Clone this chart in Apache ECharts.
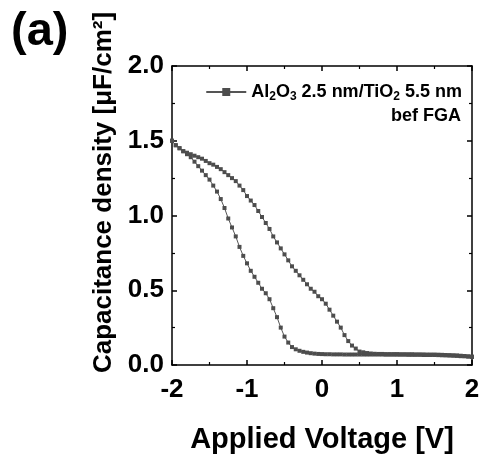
<!DOCTYPE html>
<html>
<head>
<meta charset="utf-8">
<script src="https://cdn.jsdelivr.net/npm/echarts@6/dist/echarts.min.js"></script>
<style>html,body{margin:0;padding:0;background:#fff}#c{width:483px;height:459px}</style>
</head>
<body>
<div id="c"></div>
<script>
const voltage = [-2,-1.95,-1.9,-1.85,-1.8,-1.75,-1.7,-1.65,-1.6,-1.55,-1.5,-1.45,-1.4,-1.35,-1.3,-1.25,-1.2,-1.15,-1.1,-1.05,-1,-0.95,-0.9,-0.85,-0.8,-0.75,-0.7,-0.65,-0.6,-0.55,-0.5,-0.45,-0.4,-0.35,-0.3,-0.25,-0.2,-0.15,-0.1,-0.05,0,0.05,0.1,0.15,0.2,0.25,0.3,0.35,0.4,0.45,0.5,0.55,0.6,0.65,0.7,0.75,0.8,0.85,0.9,0.95,1,1.05,1.1,1.15,1.2,1.25,1.3,1.35,1.4,1.45,1.5,1.55,1.6,1.65,1.7,1.75,1.8,1.85,1.9,1.95,2];
const capForward = [1.50,1.47,1.45,1.43,1.41,1.39,1.36,1.33,1.30,1.27,1.24,1.20,1.16,1.11,1.05,0.98,0.92,0.86,0.79,0.73,0.68,0.63,0.59,0.55,0.51,0.48,0.44,0.38,0.32,0.25,0.19,0.15,0.12,0.105,0.095,0.088,0.083,0.079,0.076,0.074,0.073,
  0.072,0.072,0.071,0.071,0.071,0.070,0.070,0.070,0.070,0.070,0.070,0.070,0.070,0.070,0.070,0.070,0.069,0.069,0.069,0.069,0.069,0.069,0.068,0.068,0.068,0.068,0.067,0.067,0.067,0.067,0.066,0.065,0.064,0.063,0.062,0.061,0.059,0.058,0.056,0.054];
const capReverse = [1.50,1.47,1.45,1.43,1.42,1.41,1.40,1.39,1.38,1.365,1.35,1.34,1.325,1.31,1.29,1.27,1.25,1.23,1.20,1.17,1.13,1.10,1.07,1.03,0.99,0.95,0.91,0.86,0.82,0.78,0.74,0.70,0.66,0.63,0.60,0.57,0.54,0.51,0.49,0.46,0.44,
  0.41,0.37,0.33,0.29,0.25,0.20,0.16,0.13,0.11,0.09,0.085,0.08,0.077,0.075,0.074,0.074,0.073,0.073,0.073,0.073,0.072,0.072,0.072,0.072,0.071,0.071,0.071,0.070,0.070,0.070,0.069,0.068,0.067,0.066,0.065,0.064,0.062,0.060,0.058,0.056];
const xTicks = [-2, 2, 1];
const yTicks = [0, 2, 0.5];
const seriesName = 'Al2O3 2.5 nm/TiO2 5.5 nm';
const noteText = 'bef FGA';
const panelText = '(a)';
const xTitle = 'Applied Voltage [V]';
const yTitle = 'Capacitance density [μF/cm²]';

const loop = voltage.map((v, i) => [v, capForward[i]])
  .concat(voltage.map((v, i) => [v, capReverse[i]]).reverse());

const FONT = 'Liberation Sans, Arial, sans-serif';
function axisCommon() {
  return {
    axisLine: { show: true, onZero: false, lineStyle: { color: '#000', width: 1.5 } },
    axisTick: { show: true, inside: true, length: 5, lineStyle: { color: '#000', width: 1.5 } },
    minorTick: { show: true, splitNumber: 2, length: 3, lineStyle: { color: '#000', width: 1.2 } },
    splitLine: { show: false }
  };
}
const chart = echarts.init(document.getElementById('c'));
chart.setOption({
  animation: false,
  title: [
    { text: panelText, left: 6, top: 4, textStyle: { fontFamily: FONT, fontWeight: 'bold', fontSize: 47, color: '#000' } },
    { text: noteText, right: 17, top: 102, textStyle: { fontFamily: FONT, fontWeight: 'bold', fontSize: 18, color: '#000' } }
  ],
  legend: {
    right: 16, top: 76, itemWidth: 40, itemHeight: 10, itemGap: 4,
    data: [seriesName],
    formatter: () => '{b|Al}{s|2}{b|O}{s|3}{b| 2.5 nm/TiO}{s|2}{b| 5.5 nm}',
    textStyle: {
      fontFamily: FONT, fontWeight: 'bold', fontSize: 18, color: '#000',
      rich: {
        b: { fontFamily: FONT, fontWeight: 'bold', fontSize: 18, color: '#000', lineHeight: 22 },
        s: { fontFamily: FONT, fontWeight: 'bold', fontSize: 12, color: '#000', lineHeight: 22, padding: [10, 0, 0, 0] }
      }
    }
  },
  grid: { left: 172, right: 11, top: 66, bottom: 93 },
  xAxis: [
    Object.assign({
      type: 'value', min: xTicks[0], max: xTicks[1], interval: xTicks[2],
      name: xTitle, nameLocation: 'middle', nameGap: 60,
      nameTextStyle: { fontFamily: FONT, fontWeight: 'bold', fontSize: 29, color: '#000' },
      axisLabel: { fontFamily: FONT, fontWeight: 'bold', fontSize: 26, color: '#000', margin: 12 }
    }, axisCommon()),
    Object.assign({
      type: 'value', position: 'top', min: xTicks[0], max: xTicks[1], interval: xTicks[2],
      axisLabel: { show: false }
    }, axisCommon())
  ],
  yAxis: [
    Object.assign({
      type: 'value', min: yTicks[0], max: yTicks[1], interval: yTicks[2],
      name: yTitle, nameLocation: 'middle', nameGap: 55,
      nameTextStyle: { fontFamily: FONT, fontWeight: 'bold', fontSize: 26, color: '#000', padding: [0, 0, 0, 46] },
      axisLabel: { fontFamily: FONT, fontWeight: 'bold', fontSize: 26, color: '#000', margin: 8, formatter: v => v.toFixed(1) }
    }, axisCommon()),
    Object.assign({
      type: 'value', position: 'right', min: yTicks[0], max: yTicks[1], interval: yTicks[2],
      axisLabel: { show: false }
    }, axisCommon())
  ],
  series: [{
    name: seriesName, type: 'line', data: loop,
    symbol: 'rect', symbolSize: 4, showSymbol: true,
    lineStyle: { color: '#555', width: 1 },
    itemStyle: { color: '#4d4d4d' },
    z: 3
  }]
});
</script>
</body>
</html>
